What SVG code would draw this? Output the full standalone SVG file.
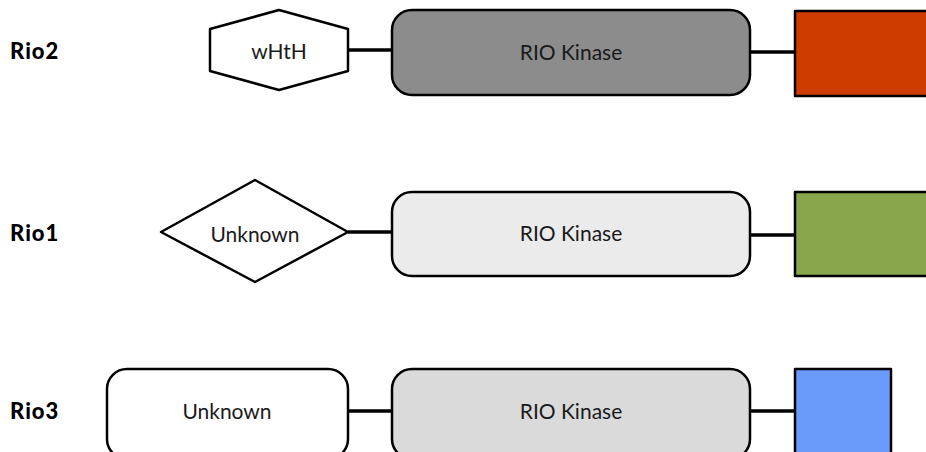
<svg xmlns="http://www.w3.org/2000/svg" width="926" height="452" viewBox="0 0 926 452">
<style>
.lbl{font-family:Lato,"Liberation Sans",sans-serif;font-weight:900;font-size:22px;letter-spacing:1px;fill:#000}
.t{font-family:Lato,"Liberation Sans",sans-serif;font-size:21px;fill:#1a1a1a;text-anchor:middle}
.s{stroke:#000;stroke-width:2.5;stroke-linejoin:round}
.c{stroke:#000;stroke-width:3.5;fill:none}
</style>
<rect width="926" height="452" fill="#fff"/>
<text class="lbl" x="10" y="59">Rio2</text>
<text class="lbl" x="10" y="241">Rio1</text>
<text class="lbl" x="10" y="419">Rio3</text>
<g id="connectors">
<line class="c" x1="348" y1="50" x2="392" y2="50"/>
<line class="c" x1="750" y1="52" x2="796" y2="52"/>
<line class="c" x1="348" y1="232" x2="392" y2="232"/>
<line class="c" x1="750" y1="235" x2="796" y2="235"/>
<line class="c" x1="348" y1="411" x2="392" y2="411"/>
<line class="c" x1="750" y1="411" x2="796" y2="411"/>
</g>
<g id="rio2-whth">
<polygon class="s" fill="#fff" points="279,10 210,29 210,71 279,90 348,71 348,29"/>
<text class="t" x="279" y="59">wHtH</text>
</g>
<g id="rio2-kinase">
<rect class="s" fill="#8c8c8c" x="392" y="10" width="358" height="85" rx="20"/>
<text class="t" x="571" y="60">RIO Kinase</text>
</g>
<g id="rio2-c">
<rect class="s" fill="#cf3c00" x="795" y="11" width="140" height="85"/>
</g>
<g id="rio1-unknown">
<polygon class="s" fill="#fff" points="161,232 255,180 348,232 255,282"/>
<text class="t" x="255" y="242">Unknown</text>
</g>
<g id="rio1-kinase">
<rect class="s" fill="#ebebeb" x="392" y="192" width="358" height="84" rx="20"/>
<text class="t" x="571" y="241">RIO Kinase</text>
</g>
<g id="rio1-c">
<rect class="s" fill="#89a64c" x="795" y="192" width="140" height="84"/>
</g>
<g id="rio3-unknown">
<rect class="s" fill="#fff" x="107" y="369" width="241" height="90" rx="20"/>
<text class="t" x="227" y="419">Unknown</text>
</g>
<g id="rio3-kinase">
<rect class="s" fill="#dadada" x="392" y="369" width="358" height="90" rx="20"/>
<text class="t" x="571" y="419">RIO Kinase</text>
</g>
<g id="rio3-c">
<rect class="s" fill="#6b9bfa" x="795" y="369" width="96" height="90"/>
</g>
</svg>
